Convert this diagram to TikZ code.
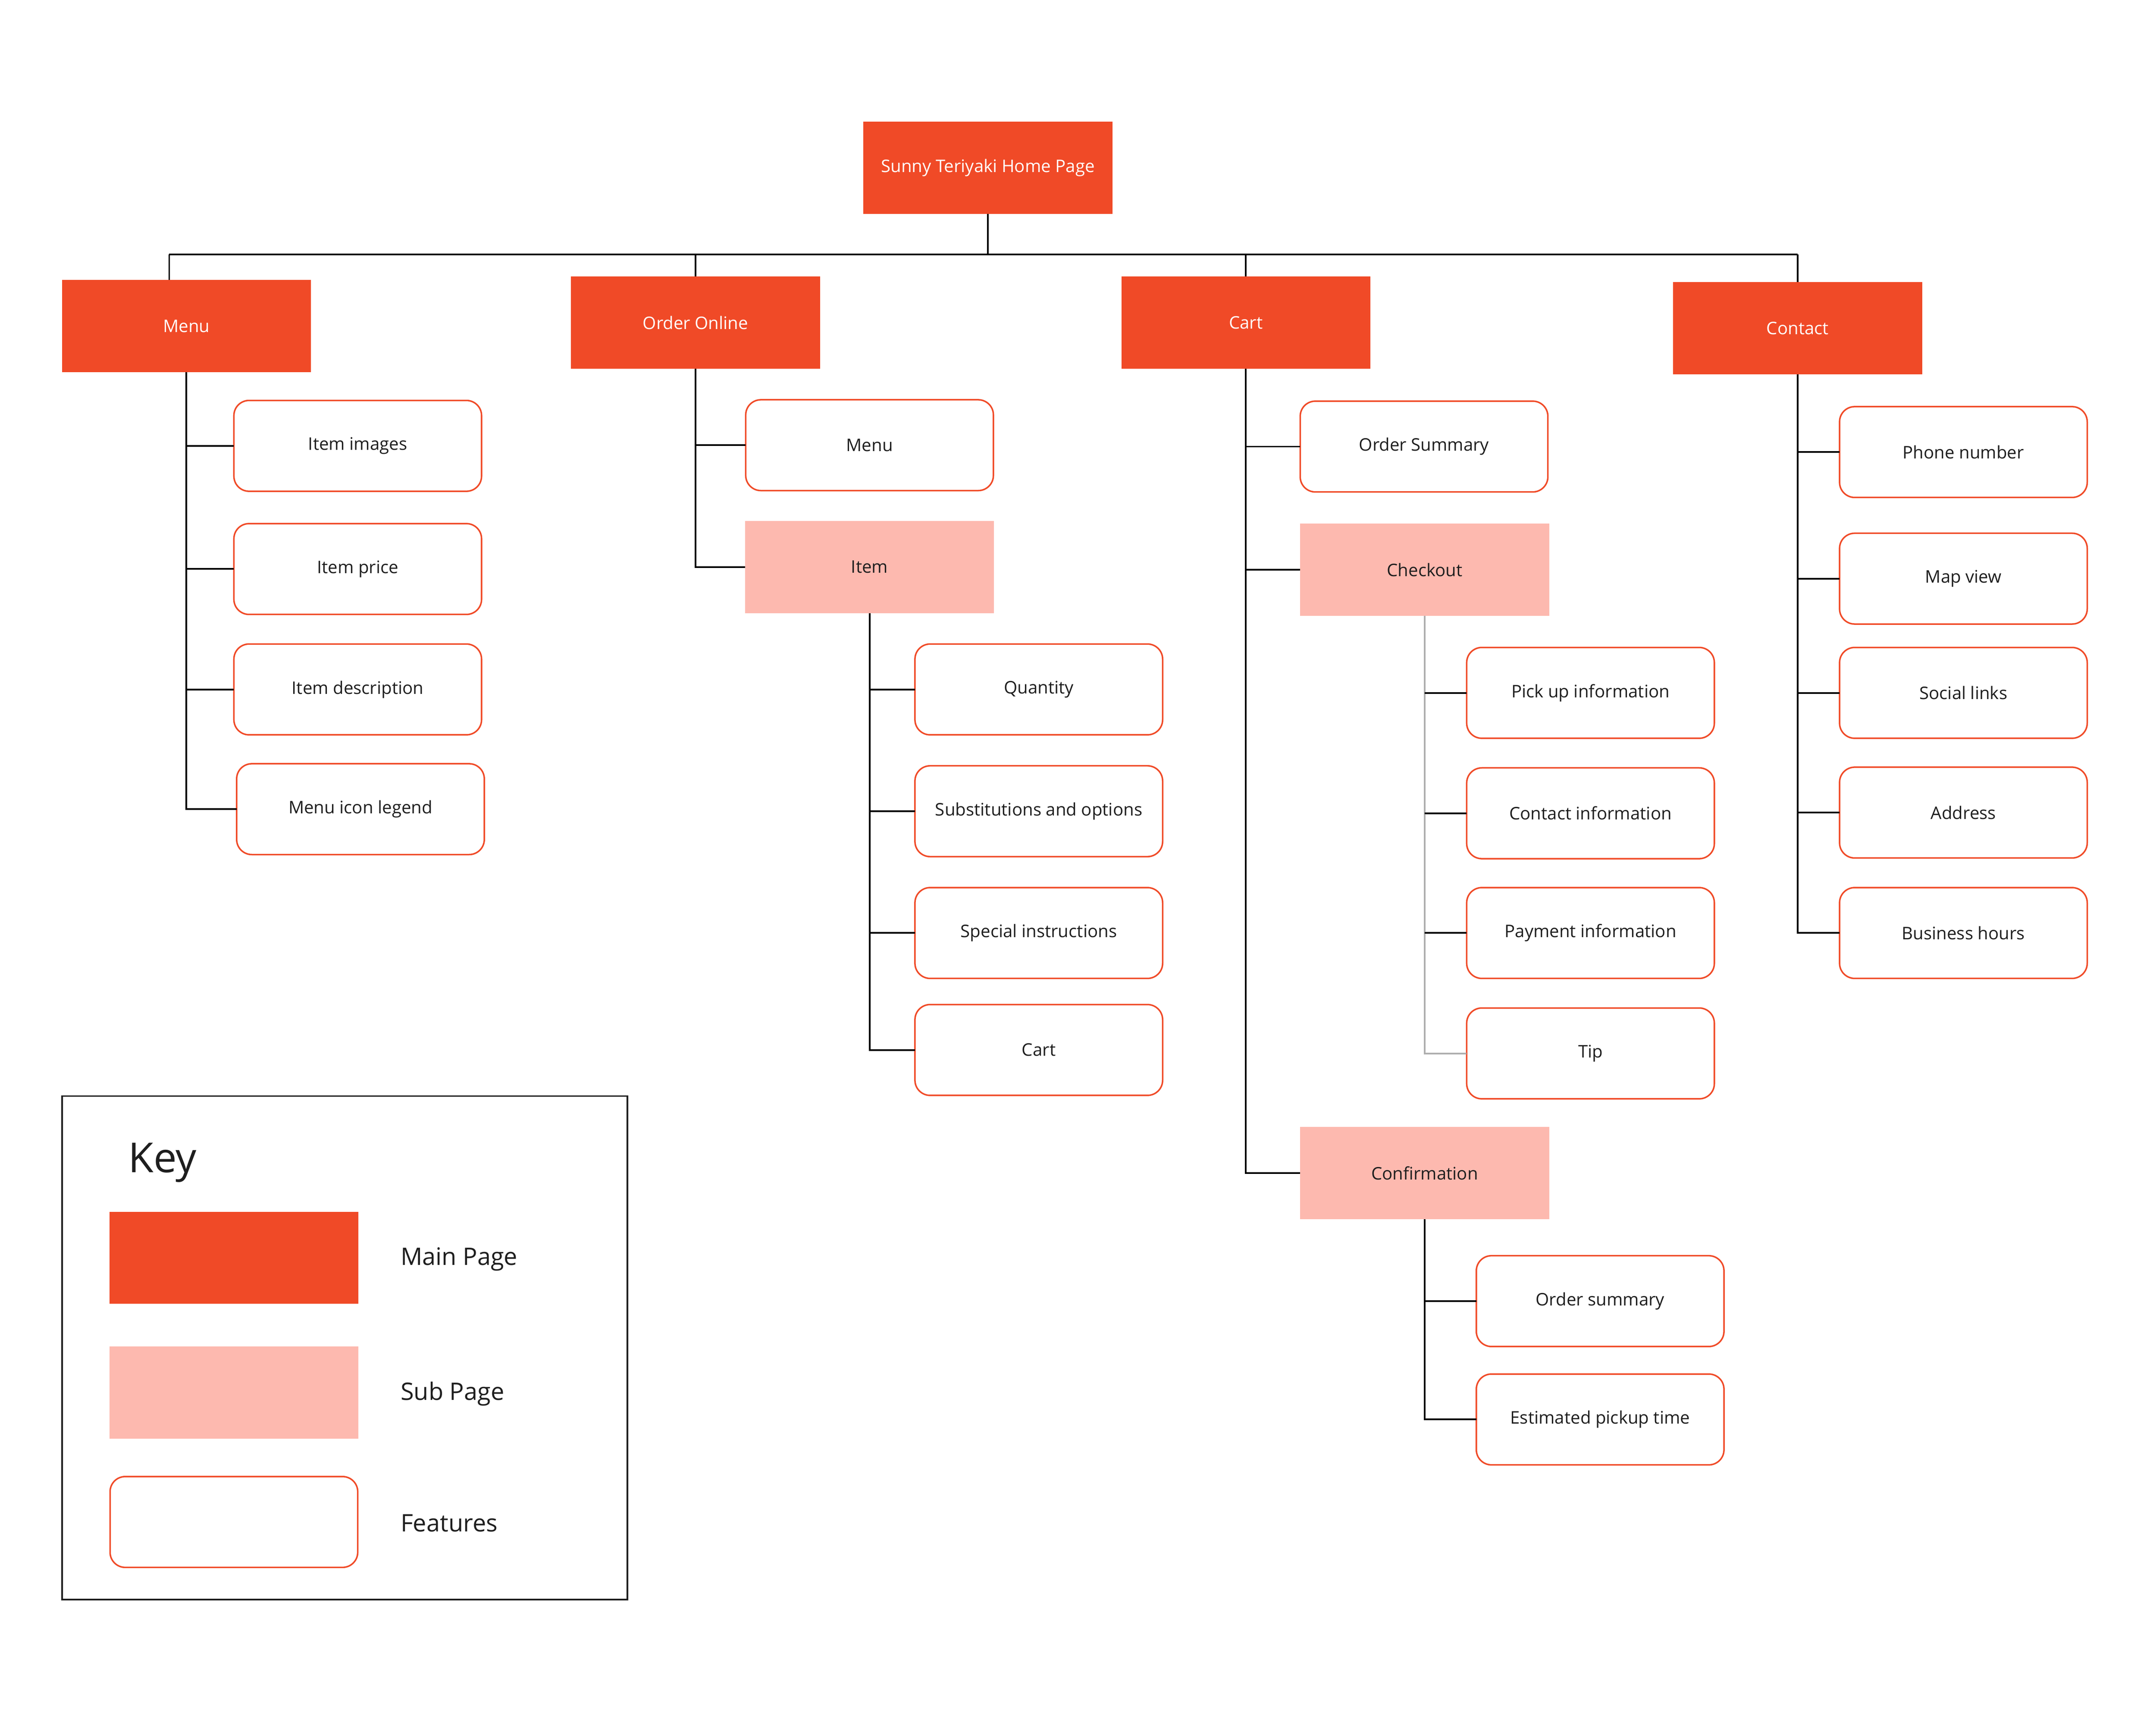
\documentclass[tikz,border=0pt]{standalone}
\usepackage{fontspec}
\setmainfont{Open Sans}
\definecolor{mainc}{RGB}{240,74,39}
\definecolor{subc}{RGB}{253,185,175}
\definecolor{greyline}{RGB}{175,175,175}
\definecolor{txt}{RGB}{30,30,30}
\begin{document}
\begin{tikzpicture}[x=1pt,y=-1pt,
  base/.style={inner sep=0pt, outer sep=0pt, font=\fontsize{12.6}{15}\selectfont, text=txt},
  mainpage/.style={base, fill=mainc, text=white, minimum width=181pt, minimum height=67pt},
  subpage/.style={base, fill=subc, minimum width=181pt, minimum height=67pt},
  feature/.style={base, draw=mainc, line width=1.1pt, rounded corners=11pt, fill=white, minimum width=180pt, minimum height=66pt},
  conn/.style={line width=1.2pt, black},
  gconn/.style={line width=1.2pt, greyline},
  keylabel/.style={anchor=west, inner sep=0pt, text=txt, font=\fontsize{17.5}{21}\selectfont}]
\useasboundingbox (0,0) rectangle (1567,1244.6);
\fill[white] (0,0) rectangle (1567,1244.6);

% top level
\node[mainpage] (root) at (718,122) {Sunny Teriyaki Home Page};
\node[mainpage] (menu) at (135.5,237) {Menu};
\node[mainpage] (order) at (505.5,234.5) {Order Online};
\node[mainpage] (cart) at (905.5,234.5) {Cart};
\node[mainpage] (contact) at (1306.5,238.5) {Contact};

\coordinate (bus) at (718,185);
\coordinate (busL) at (123,185);
\coordinate (busR) at (1306.5,185);
\draw[conn] (root.south) -- (bus);
\draw[conn] (busL) -- (busR);
\draw[conn] (busL) -- (busL |- menu.north);
\draw[conn] (order.north |- bus) -- (order.north);
\draw[conn] (cart.north |- bus) -- (cart.north);
\draw[conn] (busR) -- (contact.north);

% Menu column
\node[feature] (mimg) at (260,324) {Item images};
\node[feature] (mprice) at (260,413.5) {Item price};
\node[feature] (mdesc) at (260,501) {Item description};
\node[feature] (mlegend) at (262,588) {Menu icon legend};
\foreach \n in {mimg,mprice,mdesc,mlegend}
  \draw[conn] (menu.south) |- (\n.west);

% Order Online column
\node[feature] (omenu) at (632,323.5) {Menu};
\node[subpage] (item) at (632,412) {Item};
\draw[conn] (order.south) |- (omenu.west);
\draw[conn] (order.south) |- (item.west);

\node[feature] (qty) at (755,501) {Quantity};
\node[feature] (subs) at (755,589.5) {Substitutions and options};
\node[feature] (spec) at (755,678) {Special instructions};
\node[feature] (icart) at (755,763) {Cart};
\foreach \n in {qty,subs,spec,icart}
  \draw[conn] (item.south) |- (\n.west);

% Cart column
\node[feature] (osum) at (1035,324.5) {Order Summary};
\node[subpage] (checkout) at (1035.5,414) {Checkout};
\node[subpage] (confirm) at (1035.5,852.5) {Confirmation};
\draw[conn] (cart.south) |- (osum.west);
\draw[conn] (cart.south) |- (checkout.west);
\draw[conn] (cart.south) |- (confirm.west);

\node[feature] (pickup) at (1156,503.5) {Pick up information};
\node[feature] (cinfo) at (1156,591) {Contact information};
\node[feature] (pinfo) at (1156,678) {Payment information};
\node[feature] (tip) at (1156,765.5) {Tip};
\draw[gconn] (checkout.south) |- (tip.west);
\foreach \n in {pickup,cinfo,pinfo}
  \draw[conn] (checkout.south |- \n.west) -- (\n.west);

\node[feature] (csum) at (1163,945.5) {Order summary};
\node[feature] (cpick) at (1163,1031.5) {Estimated pickup time};
\draw[conn] (confirm.south) |- (csum.west);
\draw[conn] (confirm.south) |- (cpick.west);

% Contact column
\node[feature] (phone) at (1427,328.5) {Phone number};
\node[feature] (map) at (1427,420.5) {Map view};
\node[feature] (social) at (1427,503.5) {Social links};
\node[feature] (addr) at (1427,590.5) {Address};
\node[feature] (hours) at (1427,678) {Business hours};
\foreach \n in {phone,map,social,addr,hours}
  \draw[conn] (contact.south) |- (\n.west);

% Key
\node[draw=txt, line width=1.2pt, minimum width=411pt, minimum height=366pt, inner sep=0pt] (keybox) at (250.5,979.5) {};
\node[anchor=west, inner sep=0pt, text=txt, font=\fontsize{30}{34}\selectfont] (keytitle) at (93,845) {Key};
\node[mainpage] (kmain) at (170,914) {};
\node[subpage] (ksub) at (170,1012) {};
\node[feature] (kfeat) at (170,1106) {};
\node[keylabel] (lmain) at (291,915) {Main Page};
\node[keylabel] (lsub) at (291,1013) {Sub Page};
\node[keylabel] (lfeat) at (291,1107) {Features};
\end{tikzpicture}
\end{document}
